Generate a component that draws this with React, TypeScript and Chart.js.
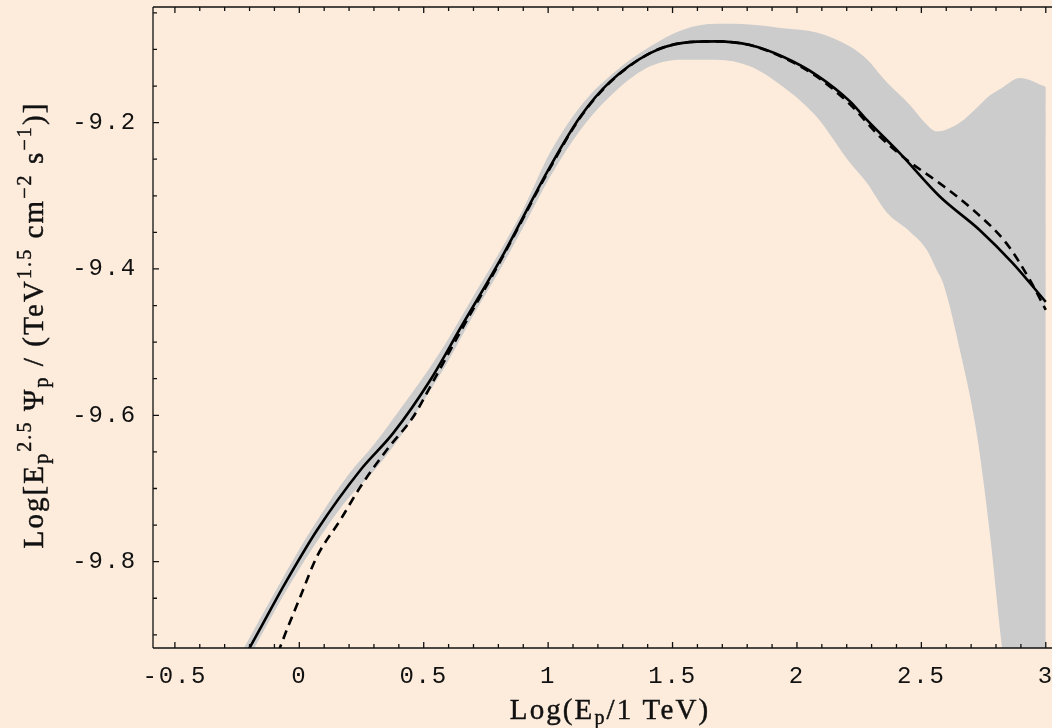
import React, { useEffect, useRef } from "react";
import { Chart, registerables } from "chart.js";

Chart.register(...registerables);

// ---------- data ----------
const xTickValues = [-0.5, 0, 0.5, 1, 1.5, 2, 2.5, 3];
const xTickLabels = ["-0.5", "0", "0.5", "1", "1.5", "2", "2.5", "3"];
const yTickValues = [-9.8, -9.6, -9.4, -9.2];
const yTickLabels = ["-9.8", "-9.6", "-9.4", "-9.2"];

const solidX = [-0.23, -0.197, -0.056, 0.071, 0.245, 0.378, 0.526, 0.647, 0.807, 1.008, 1.129, 1.249, 1.41, 1.542, 1.677, 1.811, 1.944, 2.079, 2.213, 2.28, 2.414, 2.574, 2.735, 2.867, 3.0];
const solidY = [-9.935, -9.916, -9.829, -9.757, -9.675, -9.624, -9.552, -9.481, -9.388, -9.26, -9.192, -9.144, -9.105, -9.091, -9.089, -9.094, -9.11, -9.135, -9.171, -9.196, -9.242, -9.301, -9.347, -9.392, -9.445];

const dashedX = [-0.085, -0.076, 0.004, 0.071, 0.165, 0.245, 0.352, 0.458, 0.526, 0.647, 0.807, 1.008, 1.129, 1.249, 1.41, 1.542, 1.677, 1.811, 1.944, 2.079, 2.213, 2.333, 2.442, 2.574, 2.707, 2.842, 2.936, 3.0];
const dashedY = [-9.925, -9.916, -9.848, -9.793, -9.743, -9.698, -9.647, -9.602, -9.561, -9.486, -9.39, -9.262, -9.193, -9.145, -9.105, -9.091, -9.089, -9.094, -9.111, -9.137, -9.175, -9.219, -9.251, -9.283, -9.319, -9.365, -9.415, -9.456];

const bandX = [-0.25, -0.1, 0, 0.1, 0.2, 0.3, 0.4, 0.5, 0.6, 0.7, 0.8, 0.9, 1.008, 1.141, 1.277, 1.41, 1.542, 1.677, 1.811, 1.944, 2.079, 2.213, 2.28, 2.361, 2.454, 2.522, 2.561, 2.587, 2.655, 2.722, 2.775, 2.822, 2.896, 3.0];
const bandUpper = [-9.935, -9.843, -9.783, -9.729, -9.68, -9.64, -9.594, -9.547, -9.495, -9.437, -9.38, -9.318, -9.241, -9.173, -9.128, -9.096, -9.073, -9.065, -9.066, -9.071, -9.077, -9.096, -9.113, -9.145, -9.176, -9.203, -9.212, -9.211, -9.2, -9.18, -9.163, -9.153, -9.139, -9.151];
const bandLower = [-9.962, -9.868, -9.81, -9.758, -9.712, -9.676, -9.632, -9.58, -9.525, -9.463, -9.405, -9.343, -9.274, -9.205, -9.155, -9.123, -9.114, -9.114, -9.123, -9.151, -9.192, -9.255, -9.282, -9.323, -9.349, -9.374, -9.401, -9.419, -9.511, -9.624, -9.761, -9.911, -10.1, -10.4];

const X_MIN = -0.588;
const X_MAX = 3.025;
const Y_MIN = -9.918;
const Y_MAX = -9.042;

// ---------- styles ----------
const BG = "#fdecdc";
const BAND = "#cccccc";
const INK = "#111111";
const MONO = '"Liberation Mono", "Courier New", monospace';
const SERIF = '"Liberation Serif", "Times New Roman", serif';

type Seg = { t: string; s: number; dy: number };

const xTitle: Seg[] = [
  { t: "Log(E", s: 29, dy: 0 },
  { t: "p", s: 20, dy: 5 },
  { t: "/1 TeV)", s: 29, dy: 0 },
];

const yTitle: Seg[] = [
  { t: "Log[E", s: 29, dy: 0 },
  { t: "p", s: 20, dy: 5 },
  { t: "2.5", s: 20, dy: -12 },
  { t: " \u03A8", s: 29, dy: 0 },
  { t: "p", s: 20, dy: 5 },
  { t: " / (TeV", s: 29, dy: 0 },
  { t: "1.5", s: 20, dy: -12 },
  { t: " cm", s: 29, dy: 0 },
  { t: "\u22122", s: 20, dy: -12 },
  { t: " s", s: 29, dy: 0 },
  { t: "\u22121", s: 20, dy: -12 },
  { t: ")]", s: 29, dy: 0 },
];

function drawRich(ctx: CanvasRenderingContext2D, segs: Seg[], cx: number, baseY: number) {
  const widths = segs.map((sg) => {
    ctx.font = `${sg.s}px ${SERIF}`;
    return ctx.measureText(sg.t).width;
  });
  const total = widths.reduce((a, b) => a + b, 0);
  let x = cx - total / 2;
  segs.forEach((sg, i) => {
    ctx.font = `${sg.s}px ${SERIF}`;
    ctx.fillText(sg.t, x, baseY + sg.dy);
    ctx.strokeText(sg.t, x, baseY + sg.dy);
    x += widths[i];
  });
}

const framePlugin = {
  id: "frame",
  beforeDraw(chart: any) {
    const ctx = chart.ctx as CanvasRenderingContext2D;
    ctx.save();
    ctx.fillStyle = BG;
    ctx.fillRect(0, 0, chart.width, chart.height);
    ctx.restore();
    (ctx as any).letterSpacing = "1.8px";
  },
  afterDraw(chart: any) {
    const ctx = chart.ctx as CanvasRenderingContext2D;
    const { left, right, top, bottom } = chart.chartArea;
    const xs = chart.scales.x;
    const ys = chart.scales.y;
    ctx.save();
    ctx.strokeStyle = INK;
    ctx.lineWidth = 1.3;
    ctx.beginPath();
    ctx.moveTo(left, top);
    ctx.lineTo(left, bottom);
    ctx.moveTo(left, bottom);
    ctx.lineTo(right, bottom);
    ctx.moveTo(left, top);
    ctx.lineTo(right, top);
    for (let i = -6; i <= 31; i++) {
      const v = i / 10;
      const px = xs.getPixelForValue(v);
      if (px < left || px > right) continue;
      const len = i % 5 === 0 ? 6 : 4;
      ctx.moveTo(px, bottom);
      ctx.lineTo(px, bottom - len);
      ctx.moveTo(px, top);
      ctx.lineTo(px, top + len);
    }
    for (let k = -200; k <= -180; k++) {
      const v = k / 20;
      const py = ys.getPixelForValue(v);
      if (py < top || py > bottom) continue;
      const major = Math.round(v * 100) % 20 === 0;
      const len = major ? 6 : 4;
      ctx.moveTo(left, py);
      ctx.lineTo(left + len, py);
    }
    ctx.stroke();

    (ctx as any).letterSpacing = "2.1px";
    ctx.fillStyle = INK;
    ctx.strokeStyle = INK;
    ctx.lineWidth = 0.45;
    ctx.textAlign = "left";
    ctx.textBaseline = "alphabetic";
    drawRich(ctx, xTitle, 610, 719);
    ctx.translate(43, 325);
    ctx.rotate(-Math.PI / 2);
    drawRich(ctx, yTitle, 0, 0);
    ctx.restore();
    (ctx as any).letterSpacing = "0px";
  },
};

const pts = (xs: number[], ys: number[]) => xs.map((x, i) => ({ x, y: ys[i] }));

export default function App() {
  const ref = useRef<HTMLCanvasElement>(null);
  useEffect(() => {
    const chart = new Chart(ref.current as HTMLCanvasElement, {
      type: "line",
      data: {
        datasets: [
          {
            label: "solid",
            data: pts(solidX, solidY),
            borderColor: "#000",
            borderWidth: 2.6,
            pointRadius: 0,
            fill: false,
            cubicInterpolationMode: "monotone",
            order: 0,
          },
          {
            label: "dashed",
            data: pts(dashedX, dashedY),
            borderColor: "#000",
            borderWidth: 2.6,
            borderDash: [9, 6],
            pointRadius: 0,
            fill: false,
            cubicInterpolationMode: "monotone",
            order: 1,
          },
          {
            label: "band upper",
            data: pts(bandX, bandUpper),
            borderColor: "rgba(0,0,0,0)",
            borderWidth: 0,
            backgroundColor: BAND,
            pointRadius: 0,
            fill: "+1",
            cubicInterpolationMode: "monotone",
            order: 2,
          },
          {
            label: "band lower",
            data: pts(bandX, bandLower),
            borderColor: "rgba(0,0,0,0)",
            borderWidth: 0,
            pointRadius: 0,
            fill: false,
            cubicInterpolationMode: "monotone",
            order: 3,
          },
        ],
      } as any,
      options: {
        responsive: false,
        animation: false,
        devicePixelRatio: 1,
        layout: { padding: { top: 7, left: 0, right: 0, bottom: 0 } },
        plugins: {
          legend: { display: false },
          tooltip: { enabled: false },
          title: { display: false },
        },
        scales: {
          x: {
            type: "linear",
            min: X_MIN,
            max: X_MAX,
            grid: { display: false, drawTicks: false },
            border: { display: false },
            ticks: {
              font: { family: MONO, size: 24 },
              color: INK,
              padding: 14,
              autoSkip: false,
              maxRotation: 0,
              minRotation: 0,
              callback: (v: any) => {
                const i = xTickValues.indexOf(Number(v));
                return i >= 0 ? xTickLabels[i] : "";
              },
            },
            afterBuildTicks: (s: any) => {
              s.ticks = xTickValues.map((v) => ({ value: v }));
            },
            afterFit: (s: any) => {
              s.height = 80;
              s.paddingLeft = 0;
              s.paddingRight = 0;
            },
          },
          y: {
            type: "linear",
            min: Y_MIN,
            max: Y_MAX,
            grid: { display: false, drawTicks: false },
            border: { display: false },
            ticks: {
              font: { family: MONO, size: 24 },
              color: INK,
              padding: 16,
              autoSkip: false,
              callback: (v: any) => {
                const i = yTickValues.indexOf(Number(v));
                return i >= 0 ? yTickLabels[i] : "";
              },
            },
            afterBuildTicks: (s: any) => {
              s.ticks = yTickValues.map((v) => ({ value: v }));
            },
            afterFit: (s: any) => {
              s.width = 153;
              s.paddingTop = 0;
              s.paddingBottom = 0;
            },
          },
        },
      } as any,
      plugins: [framePlugin],
    });
    return () => chart.destroy();
  }, []);
  return (
    <div style={{ position: "absolute", left: 0, top: 0, width: 1052, height: 728, background: BG }}>
      <canvas ref={ref} width={1052} height={728} style={{ display: "block", width: 1052, height: 728 }} />
    </div>
  );
}
